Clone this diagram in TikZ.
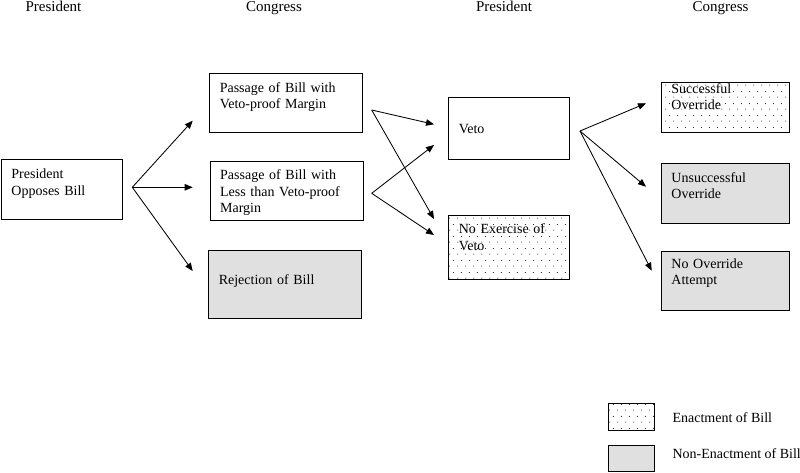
\documentclass[tikz,border=0pt]{standalone}
\usepackage{fontspec}
\setmainfont{Liberation Serif}
\usetikzlibrary{arrows.meta, positioning, patterns.meta}
\definecolor{vetogray}{HTML}{E0E0E0}

\tikzdeclarepattern{
  name=sparsedots,
  type=uncolored,
  bounding box={(0pt,0pt) and (8pt,12pt)},
  tile size={(8pt,12pt)},
  code={\fill (2pt,3pt) circle (0.55pt); \fill (6pt,9pt) circle (0.55pt);}
}

\begin{document}
\begin{tikzpicture}[x=1pt, y=-1pt,
    stepbox/.style={rectangle, draw=black, line width=0.9pt, anchor=north west, align=left,
                 inner xsep=10pt, inner ysep=0pt, text height=19pt,
                 font=\fontsize{14}{16.3}\selectfont},
    enacted/.style={pattern=sparsedots, pattern color=black},
    failed/.style={fill=vetogray},
    head/.style={anchor=base, font=\fontsize{15}{18}\selectfont},
    keytext/.style={anchor=base west, font=\fontsize{14}{16}\selectfont},
    arr/.style={-{Triangle[length=8pt, width=6.5pt]}, line width=0.85pt, draw=black}
  ]
    \useasboundingbox (0,0) rectangle (800,472);

    % column heads
    \node[head] (h1) at (53.5,11) {President};
    \node[head] (h2) at (274,11) {Congress};
    \node[head] (h3) at (504,11) {President};
    \node[head] (h4) at (720.5,11) {Congress};

    % boxes
    \node[stepbox, text width=101pt, text depth=41pt] (opp) at (1,159.3) {President\\ Opposes Bill};
    \node[stepbox, text width=133pt, text depth=40.5pt] (pass1) at (209.3,72.7) {Passage of Bill with\\ Veto-proof Margin};
    \node[stepbox, text width=133pt, text height=18.5pt, text depth=40.5pt] (pass2) at (209.7,161) {Passage of Bill with\\ Less than Veto-proof\\ Margin};
    \node[stepbox, failed, text width=133pt, text height=34.5pt, text depth=33.5pt] (reject) at (208.3,249.7) {Rejection of Bill};
    \node[stepbox, text width=101pt, text height=35.5pt, text depth=26pt] (veto) at (448.3,97.3) {Veto};
    \node[stepbox, enacted, text width=101pt, text height=18.5pt, text depth=45pt] (noveto) at (448.3,215) {No Exercise of\\ Veto};
    \node[stepbox, enacted, text width=108pt, text height=11.5pt, text depth=39pt] (success) at (661,81.7) {Successful\\ Override};
    \node[stepbox, failed, text width=108pt, text height=18.5pt, text depth=41.5pt] (fail) at (661,163.3) {Unsuccessful\\ Override};
    \node[stepbox, failed, text width=108pt, text height=17.5pt, text depth=41.5pt] (noatt) at (661,250.7) {No Override\\ Attempt};

    % fan points and arrow ends
    \coordinate (fan1) at (132.3,187.3);
    \coordinate (to11) at (192.7,120.7);
    \coordinate (to12) at (192.7,187.3);
    \coordinate (to13) at (192.7,271);
    \coordinate (fan2) at (371.7,110);
    \coordinate (to21) at (434,124.3);
    \coordinate (to22) at (434,219);
    \coordinate (fan3) at (371.7,193.3);
    \coordinate (to31) at (434,145);
    \coordinate (to32) at (434,235);
    \coordinate (fan4) at (580,131);
    \coordinate (to41) at (646,103.3);
    \coordinate (to42) at (646,186.7);
    \coordinate (to43) at (651.7,270.7);

    \draw[arr] (fan1) -- (to11);
    \draw[arr] (fan1) -- (to12);
    \draw[arr] (fan1) -- (to13);
    \draw[arr] (fan2) -- (to21);
    \draw[arr] (fan2) -- (to22);
    \draw[arr] (fan3) -- (to31);
    \draw[arr] (fan3) -- (to32);
    \draw[arr] (fan4) -- (to41);
    \draw[arr] (fan4) -- (to42);
    \draw[arr] (fan4) -- (to43);

    % legend
    \node[rectangle, draw=black, line width=0.9pt, enacted, anchor=north west,
          minimum width=45.7pt, minimum height=26.7pt, inner sep=0pt] (keyA) at (608.3,403.3) {};
    \node[rectangle, draw=black, line width=0.9pt, failed, anchor=north west,
          minimum width=45.7pt, minimum height=26pt, inner sep=0pt] (keyB) at (608.3,445) {};
    \node[keytext] (keyAtext) at (669,422.5) {Enactment of Bill};
    \node[keytext] (keyBtext) at (669,458.5) {Non-Enactment of Bill};
\end{tikzpicture}
\end{document}
